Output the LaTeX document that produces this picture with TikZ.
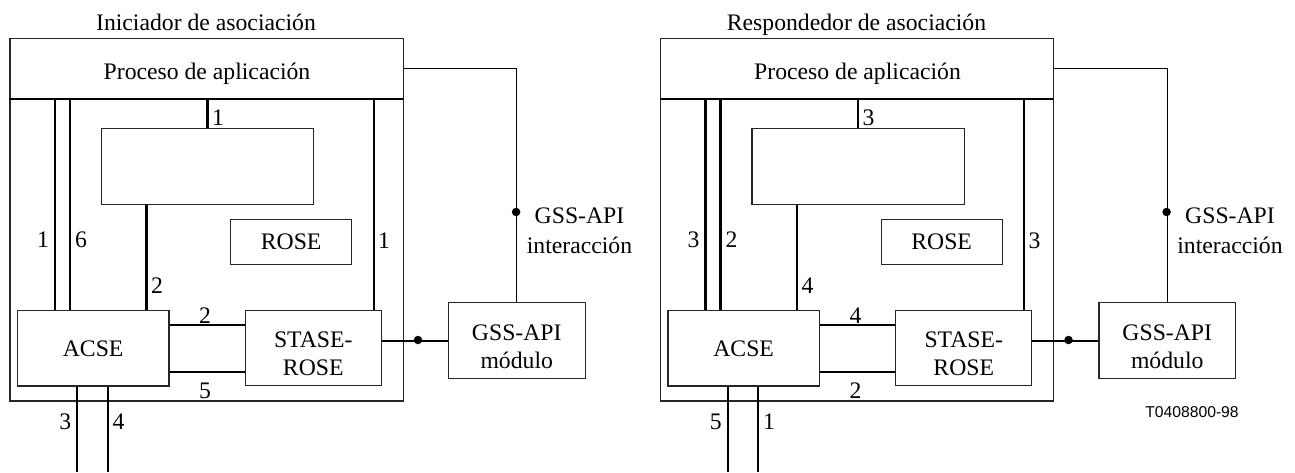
\documentclass[tikz,border=0pt]{standalone}
\usepackage{fontspec}
\setmainfont{Liberation Serif}
\newfontfamily\codefont{Liberation Sans}
\begin{document}
\begin{tikzpicture}[x=1pt,y=-1pt,
  font=\fontsize{23.7}{28}\selectfont,
  box/.style={draw=black!85, line width=1.3pt, inner sep=0pt, anchor=north west, align=center},
  twoline/.style={label={[align=center, inner sep=0pt, yshift=-6pt]center:#1}},
  bus/.style={line width=2.2pt},
  thinline/.style={line width=1pt},
  lbl/.style={inner sep=0pt},
  dot/.style={circle, fill=black, inner sep=0pt, minimum size=8.5pt}]
\path[use as bounding box] (0,0) rectangle (1295,472);

% ================= left: Iniciador =================
\begin{scope}
\node[box, minimum width=393.2pt, minimum height=362.3pt] (Lout) at (9.3,38) {};
\node[lbl, anchor=base] (Ltitle) at (206,30.7) {Iniciador de asociación};
\node[lbl, anchor=base] (Lproc) at (207,79) {Proceso de aplicación};
\coordinate (Lhl) at (9.3,98.7);
\coordinate (Lhr) at (402.5,98.7);
\draw[bus] (Lhl) -- (Lhr);
\node[box, minimum width=212.2pt, minimum height=76pt] (Linner) at (100.8,128) {};
\node[box, minimum width=121pt, minimum height=45pt] (Lrose) at (230,219) {ROSE};
\node[box, minimum width=151.6pt, minimum height=75.3pt] (Lacse) at (16.7,310) {ACSE};
\node[box, minimum width=136pt, minimum height=75pt, twoline={STASE-\\ROSE}] (Lstase) at (244.6,310) {};
\node[box, minimum width=136.8pt, minimum height=76pt, twoline={GSS-API\\módulo}] (Lgss) at (447.7,302) {};
% connectors
\draw[bus] ([xshift=38.3pt]Lacse.north west) -- ([xshift=38.3pt]Lacse.north west |- Lhl);
\draw[bus] ([xshift=53.3pt]Lacse.north west) -- ([xshift=53.3pt]Lacse.north west |- Lhl);
\draw[bus] (Linner.north) -- (Linner.north |- Lhl);
\draw[bus] ([xshift=45.7pt]Linner.south west) -- ([xshift=45.7pt]Linner.south west |- Lacse.north);
\draw[bus] ([xshift=-8.1pt]Lstase.north east) -- ([xshift=-8.1pt]Lstase.north east |- Lhl);
\draw[bus] ([yshift=-14.7pt]Lacse.north east) -- ([yshift=-14.7pt]Lacse.north east -| Lstase.west);
\draw[bus] ([yshift=15pt]Lacse.south east) -- ([yshift=15pt]Lacse.south east -| Lstase.west);
\draw[bus] (Lstase.east |- Lgss.west) -- (Lgss.west);
\node[dot] (Ldot2) at (418,340) {};
\coordinate (Lgy) at (0,68);
\draw[thinline] (Lout.east |- Lgy) -| (Lgss.north);
\node[dot] (Ldot1) at (516.1,212) {};
\node[lbl, align=center, font=\fontsize{23.7}{30}\selectfont] (Lint) at (579.5,231) {GSS-API\\interacción};
\coordinate (Lend1) at (77.3,472);
\coordinate (Lend2) at (107.7,472);
\draw[bus] (Lacse.south -| Lend1) -- (Lend1);
\draw[bus] (Lacse.south -| Lend2) -- (Lend2);
% labels
\node[lbl] (La1) at (218,118) {1};
\node[lbl] (La2) at (43,240) {1};
\node[lbl] (La3) at (81,240) {6};
\node[lbl] (La4) at (157,286) {2};
\node[lbl] (La5) at (384,241) {1};
\node[lbl] (La6) at (205,316) {2};
\node[lbl] (La7) at (205,391) {5};
\node[lbl] (La8) at (65.3,422) {3};
\node[lbl] (La9) at (118.5,422) {4};
\end{scope}

% ================= right: Respondedor =================
\begin{scope}[xshift=650.5pt]
\node[box, minimum width=393.2pt, minimum height=362.3pt] (Rout) at (9.3,38) {};
\node[lbl, anchor=base] (Rtitle) at (206,30.7) {Respondedor de asociación};
\node[lbl, anchor=base] (Rproc) at (207,79) {Proceso de aplicación};
\coordinate (Rhl) at (9.3,98.7);
\coordinate (Rhr) at (402.5,98.7);
\draw[bus] (Rhl) -- (Rhr);
\node[box, minimum width=212.2pt, minimum height=76pt] (Rinner) at (100.8,128) {};
\node[box, minimum width=121pt, minimum height=45pt] (Rrose) at (230,219) {ROSE};
\node[box, minimum width=151.6pt, minimum height=75.3pt] (Racse) at (16.7,310) {ACSE};
\node[box, minimum width=136pt, minimum height=75pt, twoline={STASE-\\ROSE}] (Rstase) at (244.6,310) {};
\node[box, minimum width=136.8pt, minimum height=76pt, twoline={GSS-API\\módulo}] (Rgss) at (447.7,302) {};
% connectors
\draw[bus] ([xshift=38.3pt]Racse.north west) -- ([xshift=38.3pt]Racse.north west |- Rhl);
\draw[bus] ([xshift=53.3pt]Racse.north west) -- ([xshift=53.3pt]Racse.north west |- Rhl);
\draw[bus] (Rinner.north) -- (Rinner.north |- Rhl);
\draw[bus] ([xshift=45.7pt]Rinner.south west) -- ([xshift=45.7pt]Rinner.south west |- Racse.north);
\draw[bus] ([xshift=-8.1pt]Rstase.north east) -- ([xshift=-8.1pt]Rstase.north east |- Rhl);
\draw[bus] ([yshift=-14.7pt]Racse.north east) -- ([yshift=-14.7pt]Racse.north east -| Rstase.west);
\draw[bus] ([yshift=15pt]Racse.south east) -- ([yshift=15pt]Racse.south east -| Rstase.west);
\draw[bus] (Rstase.east |- Rgss.west) -- (Rgss.west);
\node[dot] (Rdot2) at (418,340) {};
\coordinate (Rgy) at (0,68);
\draw[thinline] (Rout.east |- Rgy) -| (Rgss.north);
\node[dot] (Rdot1) at (516.1,212) {};
\node[lbl, align=center, font=\fontsize{23.7}{30}\selectfont] (Rint) at (579.5,231) {GSS-API\\interacción};
\coordinate (Rend1) at (77.3,472);
\coordinate (Rend2) at (107.7,472);
\draw[bus] (Racse.south -| Rend1) -- (Rend1);
\draw[bus] (Racse.south -| Rend2) -- (Rend2);
% labels
\node[lbl] (Ra1) at (218,118) {3};
\node[lbl] (Ra2) at (43,240) {3};
\node[lbl] (Ra3) at (81,240) {2};
\node[lbl] (Ra4) at (157,286) {4};
\node[lbl] (Ra5) at (384,241) {3};
\node[lbl] (Ra6) at (205,316) {4};
\node[lbl] (Ra7) at (205,391) {2};
\node[lbl] (Ra8) at (65.3,422) {5};
\node[lbl] (Ra9) at (118.5,422) {1};
\end{scope}

\node[lbl, font=\codefont\fontsize{15.7}{18}\selectfont] (code) at (1192,412) {T0408800-98};
\end{tikzpicture}
\end{document}
